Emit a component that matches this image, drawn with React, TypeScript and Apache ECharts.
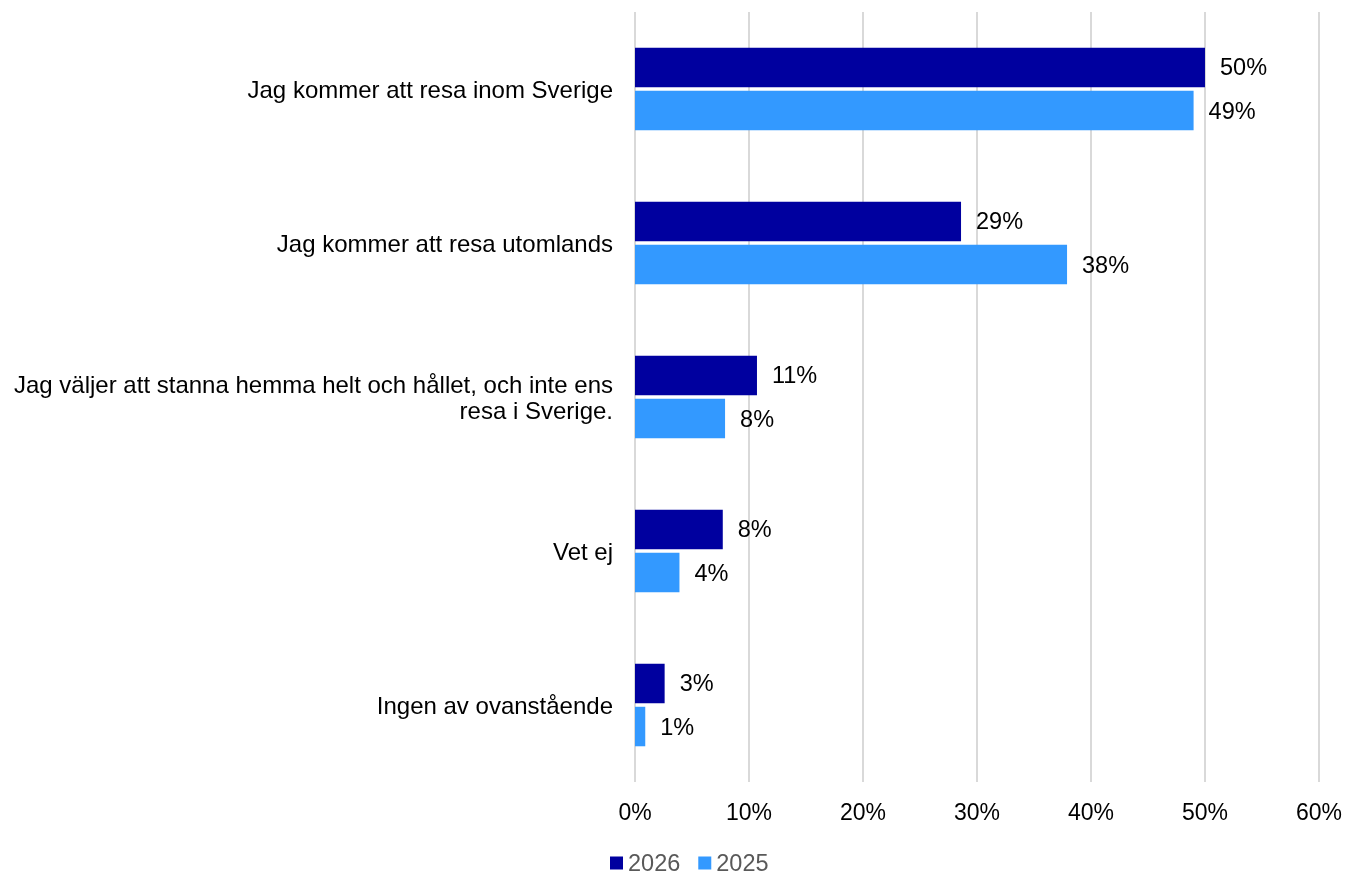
import React, { useEffect, useRef } from "react";
import * as echarts from "echarts";

const categories = [
  "Jag kommer att resa inom Sverige",
  "Jag kommer att resa utomlands",
  "Jag väljer att stanna hemma helt och hållet, och inte ens\nresa i Sverige.",
  "Vet ej",
  "Ingen av ovanstående",
];
const values2026 = [50, 28.6, 10.7, 7.7, 2.6];
const values2025 = [49, 37.9, 7.9, 3.9, 0.9];
const xTicks = [0, 10, 20, 30, 40, 50, 60];

export default function App() {
  const ref = useRef<HTMLDivElement>(null);
  useEffect(() => {
    const chart = echarts.init(ref.current!, null, { renderer: "svg" });
    const font = "Arial, 'Liberation Sans', sans-serif";
    const label = {
      show: true,
      position: "right" as const,
      distance: 15,
      fontSize: 23.5,
      color: "#000",
      fontFamily: font,
      formatter: (p: any) => Math.round(p.value) + "%",
    };
    chart.setOption({
      animation: false,
      textStyle: { fontFamily: font },
      legend: {
        data: ["2026", "2025"],
        left: 610,
        top: 850,
        padding: 0,
        icon: "rect",
        itemWidth: 13,
        itemHeight: 13,
        itemGap: 18,
        textStyle: { fontSize: 23.5, lineHeight: 26, color: "#595959", fontFamily: font },
      },
      grid: { left: 635, right: 22.5, top: 12, bottom: 94, containLabel: false },
      xAxis: {
        type: "value",
        min: xTicks[0],
        max: xTicks[xTicks.length - 1],
        interval: 10,
        axisLine: { show: false },
        axisTick: { show: false },
        axisLabel: { fontSize: 23, color: "#000", margin: 18, formatter: "{value}%", fontFamily: font },
        splitLine: { lineStyle: { color: "#d9d9d9", width: 2 } },
      },
      yAxis: {
        type: "category",
        data: categories,
        inverse: true,
        axisLine: { show: false },
        axisTick: { show: false },
        axisLabel: { fontSize: 24, color: "#000", margin: 22, align: "right", lineHeight: 26, fontFamily: font },
      },
      series: [
        {
          name: "2026",
          type: "bar",
          data: values2026,
          barWidth: 39.5,
          barGap: "9%",
          itemStyle: { color: "#00009F" },
          label,
        },
        {
          name: "2025",
          type: "bar",
          data: values2025,
          barWidth: 39.5,
          barGap: "9%",
          itemStyle: { color: "#3399FF" },
          label,
        },
      ],
    });
    return () => chart.dispose();
  }, []);
  return <div ref={ref} style={{ position: "fixed", left: 0, top: 0, width: 1345, height: 876 }} />;
}
